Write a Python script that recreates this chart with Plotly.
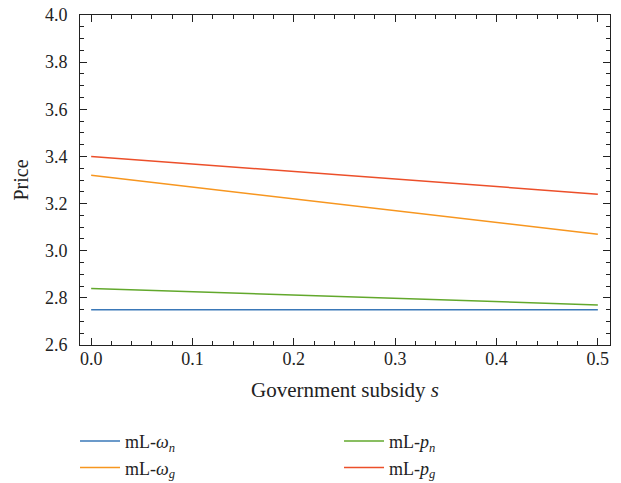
import plotly.graph_objects as go

s = [0.0, 0.5]
w_n = [2.75, 2.75]
w_g = [3.32, 3.07]
p_n = [2.84, 2.77]
p_g = [3.40, 3.24]

names = {
    "w_n": "mL-<i>ω</i><sub><i>n</i></sub>",
    "w_g": "mL-<i>ω</i><sub><i>g</i></sub>",
    "p_n": "mL-<i>p</i><sub><i>n</i></sub>",
    "p_g": "mL-<i>p</i><sub><i>g</i></sub>",
}
colors = {"w_n": "#3a78b8", "w_g": "#f7961f", "p_n": "#62a82c", "p_g": "#ec4f2a"}
series = {"w_n": w_n, "w_g": w_g, "p_n": p_n, "p_g": p_g}

x_range = [-0.011, 0.512]
y_range = [2.6, 4.0]

fig = go.Figure()
for key in ["w_n", "p_n", "w_g", "p_g"]:
    fig.add_trace(go.Scatter(x=s, y=series[key], mode="lines", name=names[key],
                             line=dict(color=colors[key], width=1.5)))
# invisible trace to host mirrored top/right axes with minor ticks
fig.add_trace(go.Scatter(x=s, y=w_n, xaxis="x2", yaxis="y2", mode="lines",
                         line=dict(width=0), showlegend=False, hoverinfo="skip"))

font = "Liberation Serif, Times New Roman, serif"
tick_common = dict(ticks="inside", ticklen=7, tickcolor="#222", tickwidth=1,
                   showgrid=False, zeroline=False)

fig.update_layout(
    xaxis=dict(range=x_range, tick0=0, dtick=0.1, tickformat=".1f",
               showline=True, linecolor="#222", linewidth=1,
               minor=dict(dtick=0.02, ticks="inside", ticklen=4, tickcolor="#222", showgrid=False),
               tickfont=dict(family=font, size=18, color="#222"),
               ticklabelstandoff=-3,
               title=dict(text="Government subsidy <i>s</i>", font=dict(family=font, size=21, color="#222"), standoff=14),
               **tick_common),
    yaxis=dict(range=y_range, tick0=2.6, dtick=0.2, tickformat=".1f",
               showline=True, linecolor="#222", linewidth=1,
               minor=dict(dtick=0.05, ticks="inside", ticklen=4, tickcolor="#222", showgrid=False),
               tickfont=dict(family=font, size=18, color="#222"),
               ticklabelstandoff=8,
               title=dict(text="Price", font=dict(family=font, size=20, color="#222"), standoff=10),
               **tick_common),
    xaxis2=dict(range=x_range, overlaying="x", side="top", tick0=0, dtick=0.1,
                showline=True, linecolor="#222", linewidth=1, showticklabels=False,
                minor=dict(dtick=0.02, ticks="inside", ticklen=4, tickcolor="#222", showgrid=False),
                **tick_common),
    yaxis2=dict(range=y_range, overlaying="y", side="right", tick0=2.6, dtick=0.2,
                showline=True, linecolor="#222", linewidth=1, showticklabels=False,
                minor=dict(dtick=0.05, ticks="inside", ticklen=4, tickcolor="#222", showgrid=False),
                **tick_common),
    width=621, height=483,
    margin=dict(l=80, r=11, t=15, b=138, autoexpand=False),
    plot_bgcolor="white", paper_bgcolor="white",
    showlegend=True,
    legend=dict(orientation="h", x=-0.0094, xanchor="left", y=-0.236, yanchor="top",
                entrywidth=209, entrywidthmode="pixels",
                font=dict(family=font, size=18, color="#222"),
                tracegroupgap=0, itemwidth=40),
)

fig.write_html("out.html", config={"displayModeBar": False},
               post_script="document.body.style.margin='0';")
